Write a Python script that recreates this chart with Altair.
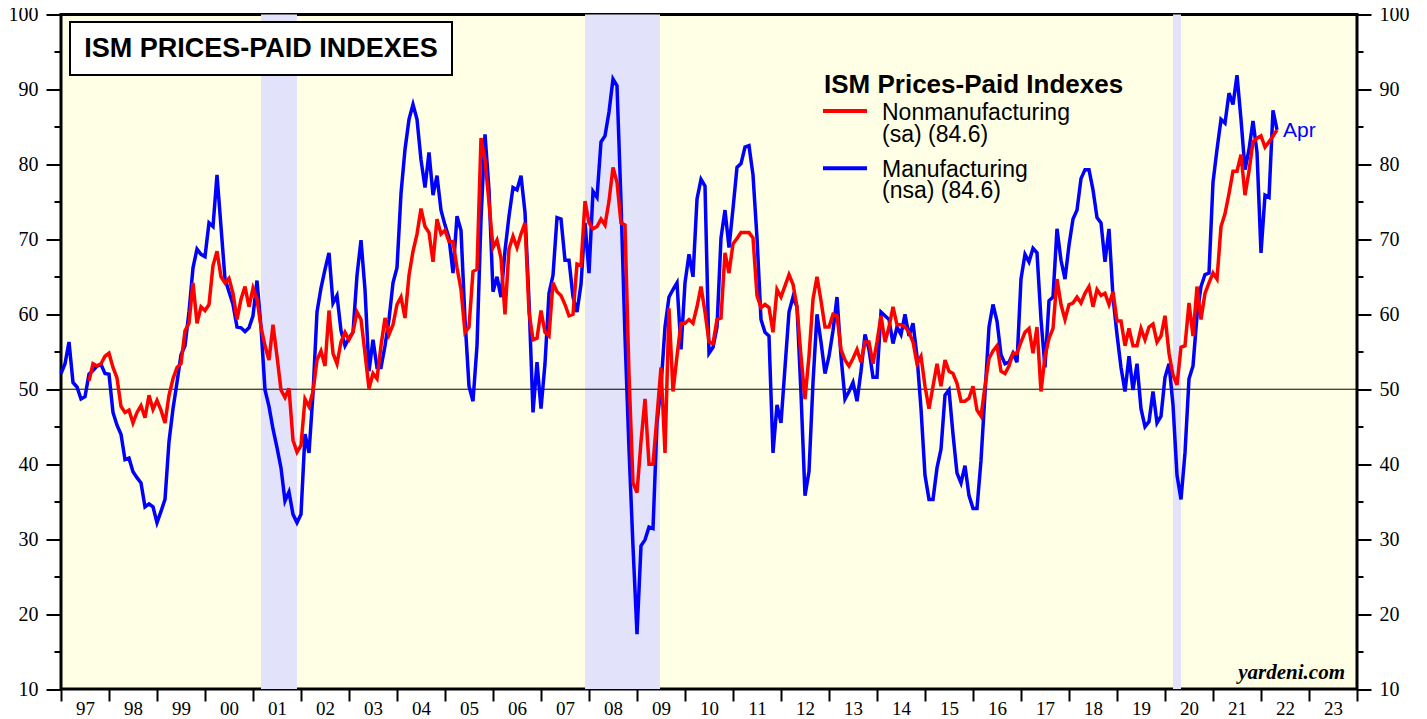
import altair as alt
import pandas as pd

# ---------------- data ----------------
# ISM manufacturing prices-paid (nsa), monthly, starting Dec 1996
mfg_start = (1996, 12)
mfg = [52.1,
 53.4, 56.3, 50.9, 50.3, 48.7, 49.0, 52.0, 52.5, 53.1, 53.3, 52.1, 52.0,
 46.9, 45.2, 44.0, 40.6, 40.8, 39.0, 38.2, 37.5, 34.3, 34.7, 34.3, 32.2,
 33.7, 35.3, 43.0, 47.4, 50.9, 54.6, 55.8, 60.3, 66.2, 68.7, 68.0, 67.7,
 72.2, 71.7, 78.6, 71.7, 64.7, 63.0, 61.3, 58.3, 58.2, 57.7, 58.2, 59.8,
 64.5, 58.3, 49.9, 47.7, 44.7, 42.2, 39.5, 35.1, 36.3, 33.3, 32.2, 33.3,
 44.0, 41.5, 49.4, 60.3, 63.5, 66.0, 68.2, 61.5, 62.5, 57.8, 55.8, 56.8,
 57.6, 65.2, 69.9, 63.3, 52.4, 56.6, 52.9, 52.9, 55.8, 59.3, 64.2, 66.2,
 76.1, 82.0, 86.0, 88.0, 86.0, 80.6, 76.9, 81.6, 75.9, 78.5, 73.9, 71.9,
 70.2, 65.5, 73.1, 71.2, 59.3, 50.4, 48.4, 55.8, 72.7, 84.0, 76.6, 63.0,
 65.0, 62.3, 68.5, 73.1, 76.9, 76.6, 78.5, 73.6, 61.8, 46.9, 53.6, 47.4,
 53.4, 62.8, 65.2, 72.9, 72.7, 67.2, 67.2, 62.3, 60.3, 64.0, 72.2, 65.5,
 76.4, 75.6, 83.0, 83.8, 87.0, 91.4, 90.5, 75.0, 57.0, 42.0, 29.0, 17.3,
 29.1, 29.9, 31.6, 31.4, 45.5, 50.4, 58.3, 62.3, 63.3, 64.2, 55.3, 64.2,
 68.0, 65.0, 75.4, 78.0, 77.1, 54.8, 55.6, 58.3, 70.2, 73.9, 68.9, 74.1,
 79.6, 80.1, 82.3, 82.5, 78.6, 70.2, 59.3, 57.6, 57.1, 41.5, 47.9, 45.5,
 52.9, 60.3, 62.3, 61.0, 49.4, 35.8, 39.0, 50.9, 60.0, 56.3, 52.1, 54.4,
 57.8, 62.3, 54.4, 48.7, 49.7, 50.9, 48.4, 52.4, 57.3, 55.3, 51.6, 51.6,
 60.3, 59.8, 59.3, 56.1, 58.3, 57.3, 60.0, 57.1, 58.8, 54.4, 47.4, 38.5,
 35.3, 35.3, 39.5, 42.0, 49.2, 49.9, 44.0, 38.8, 37.5, 39.8, 35.8, 34.1,
 34.1, 40.5, 49.4, 58.3, 61.3, 59.1, 54.6, 53.4, 53.6, 54.8, 53.6, 64.7,
 68.0, 67.0, 68.8, 68.2, 59.3, 52.9, 61.8, 62.3, 71.4, 67.2, 64.7, 69.2,
 72.7, 73.9, 78.1, 79.3, 79.3, 76.6, 72.9, 72.2, 67.0, 71.4, 62.3, 57.3,
 52.9, 49.7, 54.4, 49.9, 53.4, 47.4, 45.0, 45.7, 49.7, 45.5, 46.4, 51.6,
 53.4, 47.9, 38.5, 35.3, 41.5, 51.4, 53.1, 59.8, 63.7, 65.3, 65.5, 77.6,
 82.0, 86.0, 85.5, 89.5, 88.0, 91.9, 86.0, 79.3, 82.0, 85.8, 81.6, 68.2,
 75.9, 75.6, 87.2, 84.6]

# ISM non-manufacturing prices-paid (sa), monthly, starting Jul 1997
nonmfg_start = (1997, 7)
nonmfg = [
 51.1, 53.4, 53.1, 53.4, 54.4, 54.8,
 52.9, 51.5, 47.7, 46.9, 47.2, 45.5, 46.9, 47.8, 46.2, 49.2, 47.3, 48.5,
 47.2, 45.5, 49.2, 51.4, 52.9, 53.4, 57.8, 58.8, 64.2, 58.8, 61.0, 60.5,
 61.3, 66.5, 68.4, 65.0, 64.2, 64.8, 62.8, 59.3, 62.0, 63.7, 61.0, 63.5,
 62.0, 58.3, 55.8, 53.9, 58.6, 54.4, 49.9, 48.9, 50.1, 43.2, 41.6, 42.5,
 48.7, 47.7, 49.7, 53.9, 55.1, 53.1, 60.5, 54.8, 53.4, 56.3, 57.6, 56.6,
 57.6, 60.3, 59.3, 54.8, 50.1, 52.1, 51.4, 55.8, 59.5, 57.3, 58.6, 61.3,
 62.3, 59.5, 65.2, 68.4, 70.7, 74.1, 71.7, 70.9, 67.0, 72.7, 70.7, 71.2,
 69.7, 69.7, 66.2, 63.3, 57.6, 58.3, 65.7, 66.0, 83.5, 80.6, 74.9, 68.9,
 69.9, 67.5, 60.0, 68.7, 70.4, 68.9, 70.7, 72.2, 60.3, 56.6, 56.8, 60.5,
 57.6, 57.1, 64.2, 63.0, 62.5, 61.3, 59.8, 60.0, 66.7, 66.5, 75.1, 72.2,
 71.4, 71.7, 72.7, 71.9, 75.1, 79.6, 77.6, 72.2, 71.9, 52.0, 37.5, 36.2,
 43.0, 48.7, 40.0, 40.0, 46.4, 52.9, 41.5, 60.8, 49.7, 54.4, 58.8, 58.8,
 59.3, 58.8, 61.0, 63.7, 60.3, 56.3, 56.1, 59.3, 59.5, 68.2, 65.5, 69.4,
 70.1, 70.9, 70.9, 70.9, 70.2, 62.5, 60.9, 61.3, 60.9, 57.6, 63.3, 62.3,
 63.8, 65.3, 64.0, 61.0, 54.4, 48.7, 54.4, 62.0, 65.0, 61.8, 58.3, 58.3,
 60.0, 59.8, 55.3, 53.9, 53.1, 54.1, 55.3, 53.6, 56.3, 56.3, 53.4, 56.3,
 59.8, 56.3, 58.3, 61.0, 58.6, 58.6, 58.3, 57.6, 56.3, 53.4, 54.4, 50.4,
 47.4, 50.4, 53.4, 50.4, 53.9, 52.4, 52.1, 50.8, 48.4, 48.4, 48.8, 50.4,
 47.2, 46.4, 50.4, 54.1, 55.1, 55.8, 52.4, 52.1, 53.1, 54.8, 54.8, 56.3,
 57.6, 58.1, 54.8, 58.3, 49.7, 54.4, 56.8, 58.1, 64.7, 61.3, 59.3, 61.3,
 61.5, 62.3, 61.5, 62.8, 63.7, 61.0, 63.3, 62.5, 62.8, 61.3, 63.0, 59.1,
 59.1, 55.8, 58.1, 55.8, 55.8, 58.1, 56.6, 58.3, 58.7, 56.3, 57.1, 59.8,
 54.8, 51.9, 50.6, 55.6, 55.8, 61.5, 57.1, 63.7, 59.3, 62.8, 64.2, 65.5,
 64.7, 71.7, 73.4, 76.1, 79.1, 79.1, 81.3, 75.9, 79.1, 83.0, 83.5, 83.8,
 82.3, 83.0, 83.8, 84.6]

# recessions (decimal years)
rec_start = [2001.167, 2007.917, 2020.167]
rec_end = [2001.917, 2009.479, 2020.333]

year_ticks = list(range(1997, 2025))
y_ticks = list(range(10, 101, 5))

title_text = "ISM PRICES-PAID INDEXES"
legend_title = "ISM Prices-Paid Indexes"
legend_red = ["Nonmanufacturing", "(sa) (84.6)"]
legend_blue = ["Manufacturing", "(nsa) (84.6)"]
last_label = "Apr"
source_text = "yardeni.com"

RED = "#FF0000"
BLUE = "#0000FF"


def month_end_x(start, n):
    y, m = start
    return [y + (m - 1 + i + 1) / 12.0 for i in range(n)]


df_m = pd.DataFrame({"x": month_end_x(mfg_start, len(mfg)), "v": mfg})
df_n = pd.DataFrame({"x": month_end_x(nonmfg_start, len(nonmfg)), "v": nonmfg})
df_rec = pd.DataFrame({"s": rec_start, "e": rec_end})
df_last = df_m.tail(1).assign(t=last_label)
one = pd.DataFrame({"a": [0]})

xscale = alt.Scale(domain=[1997, 2024], nice=False, zero=False)
yscale = alt.Scale(domain=[10, 100], nice=False, zero=False)

serif = "Liberation Serif"
sans = "Liberation Sans"

x_axis = alt.Axis(
    values=year_ticks, title=None, tickSize=12, tickWidth=2, tickColor="black",
    labelOffset=24, labelPadding=-2, labelFont=serif, labelFontSize=19,
    labelColor="black", labelOverlap=False, labelFlush=False, labelBound=False,
    labelBaseline="top",
    labelExpr="datum.value >= 2024 ? '' : slice(toString(datum.value), 2)",
    grid=False, domain=False,
)


def y_axis(orient, major, minor):
    return alt.Axis(
        orient=orient, values=y_ticks, title=None,
        tickSize={"condition": {"test": "datum.value % 10 === 0", "value": major}, "value": minor},
        tickWidth=2, tickColor="black",
        labelPadding=8, labelFont=serif, labelFontSize=20, labelColor="black",
        labelOverlap=False, labelFlush=False, labelBound=False,
        labelExpr="datum.value % 10 === 0 ? toString(datum.value) : ''",
        grid=False, domain=False,
    )


rec = alt.Chart(df_rec).mark_rect(color="#E2E2FA").encode(
    x=alt.X("s:Q", scale=xscale, axis=None),
    x2="e:Q",
)

rule50 = alt.Chart(one).mark_rule(color="black", strokeWidth=1).encode(
    y=alt.YDatum(50, scale=yscale, axis=None, type="quantitative"),
)

blue_line = alt.Chart(df_m).mark_line(color=BLUE, strokeWidth=3.5).encode(
    x=alt.X("x:Q", scale=xscale, axis=None),
    y=alt.Y("v:Q", scale=yscale, axis=y_axis("right", 14, 6)),
)

red_line = alt.Chart(df_n).mark_line(color=RED, strokeWidth=3.5).encode(
    x=alt.X("x:Q", scale=xscale, axis=x_axis),
    y=alt.Y("v:Q", scale=yscale, axis=y_axis("left", 15, 7)),
)

apr = alt.Chart(df_last).mark_text(
    align="left", baseline="middle", dx=6, dy=1, color=BLUE, font=sans, fontSize=21
).encode(
    x=alt.X("x:Q", scale=xscale, axis=None),
    y=alt.Y("v:Q", scale=yscale, axis=None),
    text="t:N",
)

title_box = alt.Chart(one).mark_rect(fill="white", stroke="black", strokeWidth=2).encode(
    x=alt.value(9), x2=alt.value(391), y=alt.value(7.5), y2=alt.value(60.5)
)
title = alt.Chart(one).mark_text(
    text=title_text, font=sans, fontSize=27, fontWeight="bold", align="center",
    baseline="alphabetic", color="black"
).encode(x=alt.value(200), y=alt.value(42.5))

leg_title = alt.Chart(one).mark_text(
    text=legend_title, font=sans, fontSize=26, fontWeight="bold", align="left",
    baseline="alphabetic", color="black"
).encode(x=alt.value(763), y=alt.value(78))

leg_red_line = alt.Chart(one).mark_rule(color=RED, strokeWidth=4).encode(
    x=alt.value(762), x2=alt.value(806), y=alt.value(96.5)
)
leg_blue_line = alt.Chart(one).mark_rule(color=BLUE, strokeWidth=4).encode(
    x=alt.value(762), x2=alt.value(806), y=alt.value(153.8)
)


def leg_text(txt, ypos):
    return alt.Chart(one).mark_text(
        text=txt, font=sans, fontSize=23, align="left", baseline="alphabetic", color="black"
    ).encode(x=alt.value(821), y=alt.value(ypos))


leg_texts = [
    leg_text(legend_red[0], 105.5),
    leg_text(legend_red[1], 127),
    leg_text(legend_blue[0], 162),
    leg_text(legend_blue[1], 183.5),
]

source = alt.Chart(one).mark_text(
    text=source_text, font=serif, fontSize=21, fontWeight="bold", fontStyle="italic",
    align="right", baseline="alphabetic", color="black"
).encode(x=alt.value(1284), y=alt.value(664))

chart = alt.layer(
    rec, rule50, blue_line, red_line, apr, title_box, title,
    leg_title, leg_red_line, leg_blue_line, *leg_texts, source
).resolve_axis(
    x="independent", y="independent"
).properties(
    width=1296, height=674.5,
    autosize=alt.AutoSizeParams(type="none"),
    padding={"left": 53, "top": 6.5, "right": 60, "bottom": 30},
    background="white",
).configure_view(
    stroke="black", strokeWidth=3, fill="#FFFFE5"
)

chart.save("out.html", embed_options={"renderer": "svg", "actions": False})
